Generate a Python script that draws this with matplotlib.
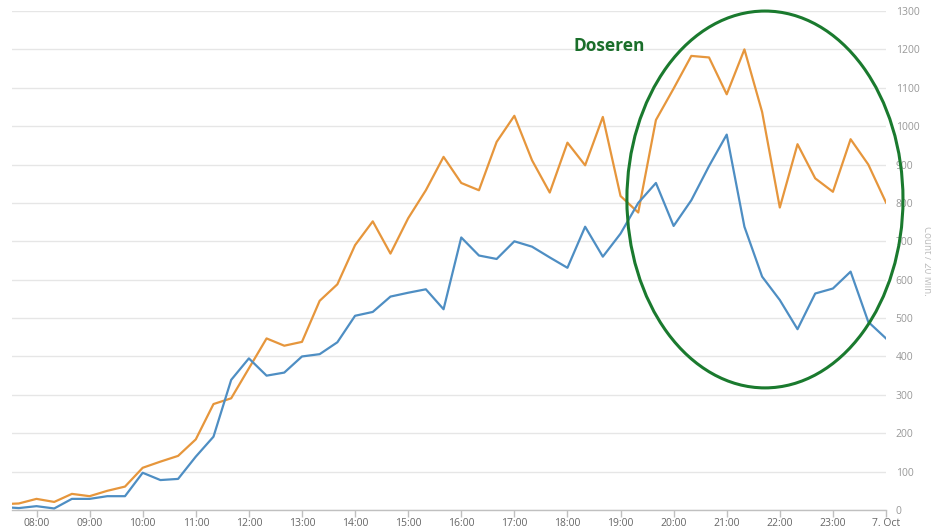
import numpy as np
import matplotlib
matplotlib.use("Agg")
import matplotlib.pyplot as plt
from matplotlib.patches import Ellipse

plt.rcParams['font.family'] = ['Open Sans', 'DejaVu Sans']

# 20-minute samples from 07:20 to 24:00 (7. Oct)
start_hour = 7 + 20 / 60
orange = [15, 17, 29, 21, 42, 36, 50, 61, 110, 126, 141, 184, 276, 291, 369, 447, 428, 438,
          545, 588, 690, 752, 668, 760, 833, 920, 852, 833, 959, 1027, 911, 827, 957, 898,
          1024, 818, 775, 1016, 1098, 1183, 1179, 1083, 1200, 1037, 788, 953, 864, 829,
          966, 900, 801]
blue = [8, 5, 10, 4, 29, 29, 36, 36, 97, 78, 81, 139, 191, 339, 395, 350, 358, 400,
        406, 437, 506, 516, 556, 566, 575, 523, 710, 663, 654, 700, 686, 658, 631, 738,
        660, 720, 800, 852, 740, 807, 896, 978, 738, 608, 547, 471, 564, 577, 621, 490, 447]
hours = start_hour + np.arange(len(orange)) / 3

tick_hours = list(range(8, 25))
tick_labels = ["08:00", "09:00", "10:00", "11:00", "12:00", "13:00", "14:00", "15:00",
               "16:00", "17:00", "18:00", "19:00", "20:00", "21:00", "22:00", "23:00", "7. Oct"]
y_ticks = list(range(0, 1301, 100))

fig = plt.figure(figsize=(9.31, 5.29), dpi=100)
ax = fig.add_axes([12 / 931, 19 / 529, (886 - 12) / 931, (510 - 11) / 529])

ax.plot(hours, orange, color='#E6963C', lw=1.6, zorder=3)
ax.plot(hours, blue, color='#4E8EC3', lw=1.6, zorder=3)

ax.set_xlim(8 - 24.5 / 53.08, 24)
ax.set_ylim(0, 1300)

ax.set_xticks(tick_hours)
ax.set_xticklabels(tick_labels)
ax.set_yticks(y_ticks)
ax.set_yticklabels([str(v) for v in y_ticks])
ax.yaxis.tick_right()
ax.yaxis.set_label_position('right')

ax.grid(axis='y', color='#E6E6E6', lw=1)
ax.set_axisbelow(True)
for s in ['top', 'right', 'left']:
    ax.spines[s].set_visible(False)
ax.spines['bottom'].set_color('#C0C0C0')
ax.spines['bottom'].set_linewidth(1)

ax.tick_params(axis='x', colors='#C0C0C0', length=5, width=1, direction='out',
               labelcolor='#666666', labelsize=7.5, pad=0.5)
ax.tick_params(axis='y', length=0, labelcolor='#999999', labelsize=7.5, pad=7)
for lbl in ax.get_yticklabels():
    lbl.set_horizontalalignment('left')

ax.set_ylabel('Count / 20 Min.', color='#BBBBBB', fontsize=7, rotation=270,
              va='center', ha='center')
ax.yaxis.set_label_coords((927 - 12) / 874, 0.5)

ell = Ellipse((21.72, 809), 276 / 53.08, 377 / 0.384, fill=False, edgecolor='#1A7A2E',
              lw=2.2, clip_on=False, zorder=4)
ax.add_patch(ell)
ax.text(18.12, 1208, 'Doseren', color='#1A6E2A', fontsize=12.5, fontweight='bold',
        ha='left', va='center', zorder=5)

fig.savefig('out.png', dpi=100)
